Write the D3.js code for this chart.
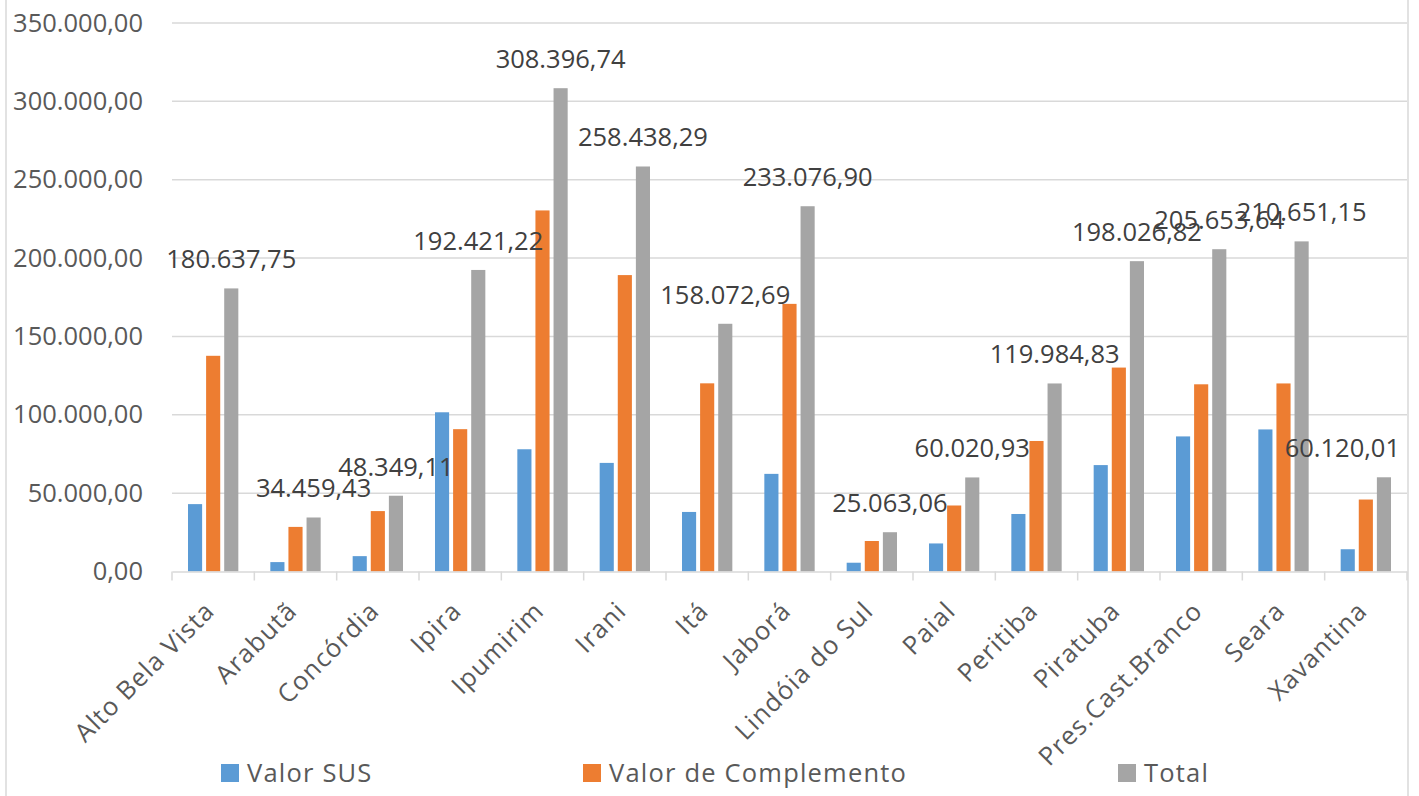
<!DOCTYPE html>
<html>
<head>
<meta charset="utf-8">
<script src="https://cdn.jsdelivr.net/npm/d3@7"></script>
<style>
  html, body { margin: 0; padding: 0; background: #fff; }
  svg { display: block; font-family: "Open Sans", sans-serif; }
</style>
</head>
<body>
<svg id="chart" width="1419" height="796"></svg>
<script>
const categories = ["Alto Bela Vista","Arabutã","Concórdia","Ipira","Ipumirim","Irani","Itá","Jaborá","Lindóia do Sul","Paial","Peritiba","Piratuba","Pres.Cast.Branco","Seara","Xavantina"];
const valorSUS = [43000, 6000, 9800, 101600, 78000, 69300, 38000, 62300, 5600, 17900, 36700, 67900, 86200, 90650, 14200];
const valorComplemento = [137637.75, 28459.43, 38549.11, 90821.22, 230396.74, 189138.29, 120072.69, 170776.90, 19463.06, 42120.93, 83284.83, 130126.82, 119453.64, 120001.15, 45920.01];
const total = [180637.75, 34459.43, 48349.11, 192421.22, 308396.74, 258438.29, 158072.69, 233076.90, 25063.06, 60020.93, 119984.83, 198026.82, 205653.64, 210651.15, 60120.01];
const seriesNames = ["Valor SUS", "Valor de Complemento", "Total"];
const seriesColors = ["#5b9bd5", "#ed7d31", "#a5a5a5"];
const yTicks = [0, 50000, 100000, 150000, 200000, 250000, 300000, 350000];

const seriesValues = [valorSUS, valorComplemento, total];
const rows = categories.map((c, i) => ({cat: c, vals: seriesValues.map(s => s[i])}));

const locale = d3.formatLocale({decimal: ",", thousands: ".", grouping: [3], currency: ["R$", ""]});
const fmt = locale.format(",.2f");

const svg = d3.select("#chart");
const W = 1419, H = 796;
const plot = {left: 172, right: 1407, top: 23, bottom: 571.5};

// chart border
svg.append("rect").attr("x", 6).attr("y", -5).attr("width", 1402).attr("height", H + 10)
  .attr("fill", "none").attr("stroke", "#d9d9d9").attr("stroke-width", 1.5);

const x = d3.scaleBand().domain(categories).range([plot.left, plot.right]).padding(0);
const groupPad = 16;
const xInner = d3.scaleBand().domain(seriesNames)
  .range([groupPad, x.bandwidth() - groupPad]).paddingInner(0.22).paddingOuter(0);
const y = d3.scaleLinear().domain([0, 350000]).range([plot.bottom, plot.top]);

// gridlines
svg.append("g").selectAll("line").data(yTicks.filter(t => t > 0)).join("line")
  .attr("x1", plot.left).attr("x2", plot.right)
  .attr("y1", d => y(d)).attr("y2", d => y(d))
  .attr("stroke", "#d9d9d9").attr("stroke-width", 1.5);

// y axis labels
const yAxis = d3.axisLeft(y).tickValues(yTicks).tickFormat(fmt).tickSize(0).tickPadding(29);
const gy = svg.append("g").attr("transform", `translate(${plot.left},0)`).call(yAxis);
gy.select(".domain").remove();
gy.selectAll("text").attr("font-size", "25.5px").attr("fill", "#595959")
  .attr("font-family", "Open Sans, sans-serif");

// bars
const groups = svg.append("g").selectAll("g").data(rows).join("g")
  .attr("transform", d => `translate(${x(d.cat)},0)`);
groups.selectAll("rect").data(d => d.vals.map((v, k) => ({k, v}))).join("rect")
  .attr("x", d => xInner(seriesNames[d.k]))
  .attr("width", xInner.bandwidth())
  .attr("y", d => y(d.v))
  .attr("height", d => y(0) - y(d.v))
  .attr("fill", d => seriesColors[d.k]);

// x axis
const xAxis = d3.axisBottom(x).tickSize(0).tickPadding(0);
const gx = svg.append("g").attr("transform", `translate(0,${plot.bottom})`).call(xAxis);
gx.select(".domain").attr("stroke", "#d9d9d9").attr("stroke-width", 1.5);
gx.selectAll(".tick text").remove();
// tick marks at band boundaries
const boundaries = categories.map(c => x(c)).concat([plot.right]);
svg.append("g").selectAll("line").data(boundaries).join("line")
  .attr("x1", d => d).attr("x2", d => d)
  .attr("y1", plot.bottom).attr("y2", plot.bottom + 9)
  .attr("stroke", "#d9d9d9").attr("stroke-width", 1.5);

// category labels (rotated)
svg.append("g").selectAll("text").data(categories).join("text")
  .attr("transform", d => `translate(${x(d) + x.bandwidth() / 2 + 3},${plot.bottom + 41}) rotate(-45)`)
  .attr("text-anchor", "end")
  .attr("font-size", "25.5px").attr("fill", "#595959")
  .attr("letter-spacing", "1.1px")
  .text(d => d);

// data labels for totals
const labelG = svg.append("g");
rows.forEach((r, i) => {
  const cx = x(r.cat) + xInner("Total") + xInner.bandwidth() / 2;
  const t = labelG.append("text")
    .attr("x", cx).attr("y", y(total[i]) - 20)
    .attr("text-anchor", "middle")
    .attr("font-size", "25.5px").attr("fill", "#404040")
    .text(fmt(total[i]));
  const bb = t.node().getBBox();
  const maxRight = 1400;
  if (bb.x + bb.width > maxRight) t.attr("x", cx - (bb.x + bb.width - maxRight));
});

// legend
const legendItems = [
  {name: seriesNames[0], color: seriesColors[0], x: 221},
  {name: seriesNames[1], color: seriesColors[1], x: 583},
  {name: seriesNames[2], color: seriesColors[2], x: 1118}
];
const lg = svg.append("g");
legendItems.forEach(it => {
  lg.append("rect").attr("x", it.x).attr("y", 764).attr("width", 18).attr("height", 18).attr("fill", it.color);
  lg.append("text").attr("x", it.x + 26).attr("y", 782).attr("font-size", "25.5px")
    .attr("letter-spacing", "1.2px").attr("fill", "#595959").text(it.name);
});
</script>
</body>
</html>
